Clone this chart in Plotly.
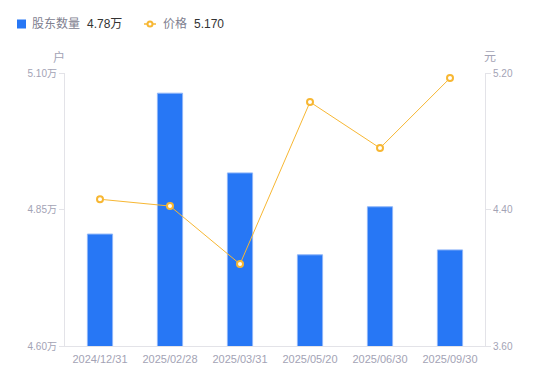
import plotly.graph_objects as go

categories = ["2024/12/31", "2025/02/28", "2025/03/31", "2025/05/20", "2025/06/30", "2025/09/30"]
holders = [4.805, 5.063, 4.917, 4.767, 4.855, 4.776]
prices = [4.46, 4.42, 4.08, 5.03, 4.76, 5.17]

left_ticks = [4.60, 4.85, 5.10]
left_ticktext = ["4.60万", "4.85万", "5.10万"]
right_ticks = [3.60, 4.40, 5.20]
right_ticktext = ["3.60", "4.40", "5.20"]

font_family = "Liberation Sans, Noto Sans CJK SC, sans-serif"
tick_color = "#a3a3b5"
axis_color = "#e3e3e8"
bar_color = "#2777F5"
line_color = "#F7B733"

# the page body has an 8px default margin: work in screen pixels, shift by it
OFF = 8
W, H = 550, 381
PL, PR, PT, PB = 65, 485, 73, 346  # plot area in screen pixels
ML, MT = PL - OFF, PT - OFF
MR, MB = W - (PR - OFF), H - (PB - OFF)
pw = PR - PL
ph = PB - PT


def px_x(x):
    return (x - PL) / pw


def px_y(y):
    return (PB - y) / ph


fig = go.Figure()
fig.add_trace(go.Bar(
    x=categories, y=holders,
    name="股东数量",
    marker=dict(color=bar_color, line=dict(color="#8fb6f8", width=1)),
    width=0.36,
    yaxis="y",
))
fig.add_trace(go.Scatter(
    x=categories, y=prices,
    name="价格",
    mode="lines+markers",
    line=dict(color=line_color, width=1),
    marker=dict(symbol="circle", size=6, color="white", line=dict(color=line_color, width=2)),
    yaxis="y2",
))

annotations = [
    dict(text="户", x=px_x(59), y=px_y(57), xanchor="center", yanchor="middle",
         font=dict(size=12, color=tick_color)),
    dict(text="元", x=px_x(490), y=px_y(57), xanchor="center", yanchor="middle",
         font=dict(size=12, color=tick_color)),
    dict(text="股东数量", x=px_x(30), y=px_y(24), xanchor="left", yanchor="middle",
         font=dict(size=12, color="#80808f")),
    dict(text=f"{holders[-1]:.2f}万", x=px_x(85), y=px_y(24), xanchor="left", yanchor="middle",
         font=dict(size=12, color="#333333")),
    dict(text="价格", x=px_x(161), y=px_y(24), xanchor="left", yanchor="middle",
         font=dict(size=12, color="#80808f")),
    dict(text=f"{prices[-1]:.3f}", x=px_x(192), y=px_y(24), xanchor="left", yanchor="middle",
         font=dict(size=12, color="#333333")),
]
for a in annotations:
    a.update(xref="paper", yref="paper", showarrow=False)

shapes = [
    dict(type="rect", xref="paper", yref="paper",
         x0=px_x(17), x1=px_x(26), y0=px_y(28.5), y1=px_y(19.5),
         fillcolor=bar_color, line=dict(width=0)),
    dict(type="line", xref="paper", yref="paper",
         x0=px_x(144), x1=px_x(156), y0=px_y(24), y1=px_y(24),
         line=dict(color=line_color, width=1.5)),
    dict(type="circle", xref="paper", yref="paper",
         x0=px_x(147.5), x1=px_x(152.5), y0=px_y(26.5), y1=px_y(21.5),
         fillcolor="white", line=dict(color=line_color, width=2)),
]

fig.update_layout(
    width=W, height=H,
    margin=dict(l=ML, r=MR, t=MT, b=MB, autoexpand=False),
    plot_bgcolor="white", paper_bgcolor="white",
    font=dict(family=font_family, size=11, color=tick_color),
    showlegend=False,
    xaxis=dict(
        type="category", showgrid=False, showline=True, linecolor=axis_color,
        ticks="", tickfont=dict(size=11, color=tick_color), ticklabelstandoff=3,
        range=[-0.5, 5.5], automargin=False,
    ),
    yaxis=dict(
        range=[4.60, 5.10], tickvals=left_ticks, ticktext=left_ticktext,
        showgrid=False, zeroline=False, showline=True, linecolor=axis_color,
        ticks="outside", ticklen=5, tickcolor=axis_color,
        tickfont=dict(size=10, color=tick_color), automargin=False,
    ),
    yaxis2=dict(
        range=[3.60, 5.20], tickvals=right_ticks, ticktext=right_ticktext,
        overlaying="y", side="right",
        showgrid=False, zeroline=False, showline=True, linecolor=axis_color,
        ticks="outside", ticklen=5, tickcolor=axis_color,
        tickfont=dict(size=10, color=tick_color), automargin=False,
    ),
    annotations=annotations,
    shapes=shapes,
)

fig.write_html("out.html")
